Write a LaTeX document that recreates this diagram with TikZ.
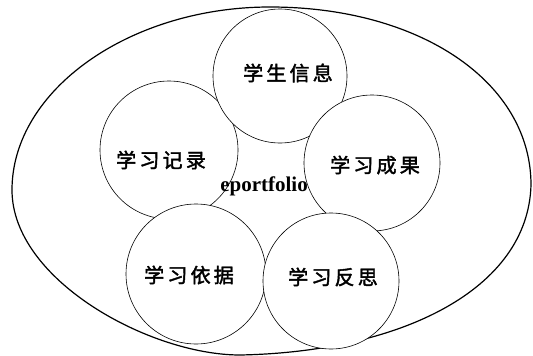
\documentclass[tikz,border=0pt]{standalone}
\usepackage{fontspec}
\setmainfont{Liberation Serif}
\newfontfamily\cjk[LetterSpace=16, FakeBold=2]{Noto Sans CJK SC}
\begin{document}
\begin{tikzpicture}[x=1pt,y=-1pt]
\tikzset{
  part/.style={circle, draw, line width=0.6pt, fill=white, inner sep=0pt,
    minimum size=138pt},
  partlabel/.style={inner sep=0pt, font=\cjk\fontsize{20}{20}\selectfont},
  outer/.style={line width=1.2pt}
}
\useasboundingbox (0,0) rectangle (533,356);
\coordinate (T) at (270,7);
\coordinate (R) at (531,185);
\coordinate (B) at (240,355);
\coordinate (L) at (12,190);
\draw[outer] (T) .. controls (420,7) and (531,82) .. (R)
  .. controls (528,290) and (400,352) .. (B)
  .. controls (150,355) and (12,280) .. (L)
  .. controls (12,90) and (130,7) .. (T) -- cycle;
\node[part] (rec) at (169,150) {};
\node[part, minimum size=134pt] (info) at (280,76) {};
\node[part, minimum size=136pt] (res) at (372,163) {};
\node[part, minimum size=140pt] (basis) at (196,274) {};
\node[part, minimum size=136pt] (refl) at (331,281) {};
\node[partlabel] (rec-t) at (161,160) {学习记录};
\node[partlabel] (info-t) at (288,73) {学生信息};
\node[partlabel] (res-t) at (375,165) {学习成果};
\node[partlabel] (basis-t) at (189,275) {学习依据};
\node[partlabel] (refl-t) at (333,277) {学习反思};
\node[font=\bfseries\fontsize{21}{21}\selectfont, inner sep=0pt] (ep) at (264,186) {eportfolio};
\end{tikzpicture}
\end{document}
